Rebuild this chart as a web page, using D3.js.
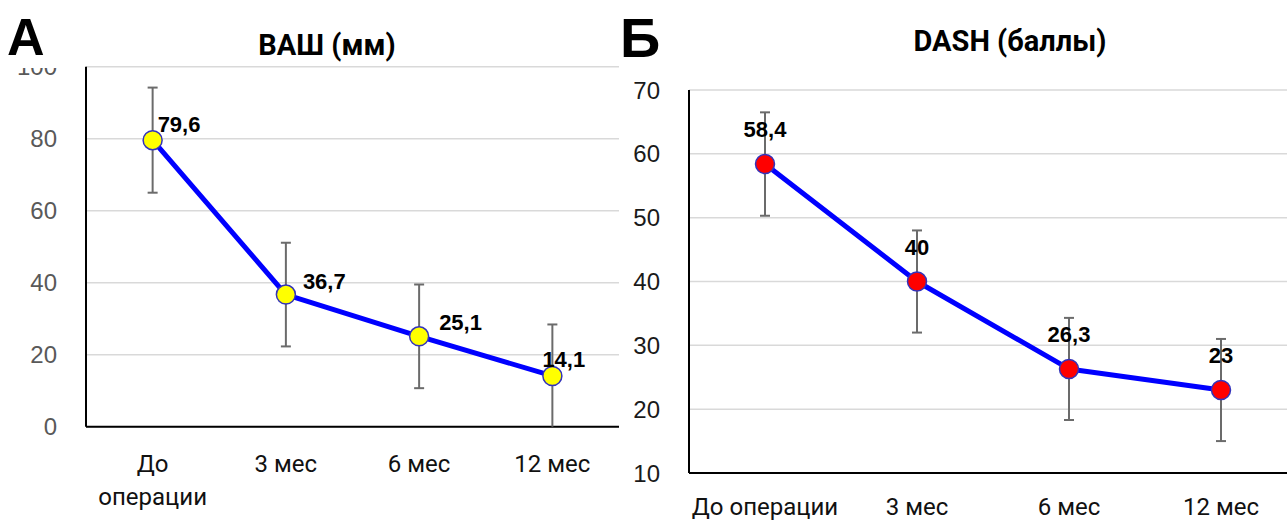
<!DOCTYPE html>
<html>
<head>
<meta charset="utf-8">
<script src="https://cdn.jsdelivr.net/npm/d3@7"></script>
<style>
  body { margin: 0; background: #fff; }
  svg { display: block; }
</style>
</head>
<body>
<svg id="chart" width="1287" height="521"></svg>
<script>
// values
const categories = ["До операции", "3 мес", "6 мес", "12 мес"];
const vasMeans = [79.6, 36.7, 25.1, 14.1];
const vasErr = [14.6, 14.4, 14.4, 14.3];
const vasTicks = [0, 20, 40, 60, 80, 100];
const dashMeans = [58.4, 40, 26.3, 23];
const dashErr = [8.1, 8.0, 8.0, 8.0];
const dashTicks = [10, 20, 30, 40, 50, 60, 70];

const svg = d3.select("#chart");
const fmt = v => String(v).replace(".", ",");

function drawPanel(p) {
  const g = svg.append("g");
  const x = d3.scalePoint().domain(categories).range([p.x0, p.x1]).padding(0.5);
  const y = d3.scaleLinear().domain(p.domain).range([p.yBottom, p.yTop]);
  const rows = p.means.map((m, i) => ({ cat: categories[i], m: m, e: p.err[i] }));

  // gridlines
  g.selectAll(".grid").data(p.ticks).join("line")
    .attr("x1", p.x0).attr("x2", p.x1)
    .attr("y1", d => y(d)).attr("y2", d => y(d))
    .attr("stroke", "#d9d9d9").attr("stroke-width", 1.5);

  // y tick labels
  g.selectAll(".ytick").data(p.ticks).join("text")
    .attr("x", p.x0 - 29).attr("y", d => y(d)).attr("dy", "0.36em")
    .attr("text-anchor", "end")
    .attr("font-family", "Liberation Sans, Arial, sans-serif")
    .attr("font-size", 24).attr("fill", p.tickColor)
    .text(d => d);

  // axis lines
  g.append("line").attr("x1", p.x0).attr("x2", p.x0)
    .attr("y1", y(p.domain[1])).attr("y2", p.yBottom)
    .attr("stroke", "#000").attr("stroke-width", 2);
  g.append("line").attr("x1", p.x0).attr("x2", p.x1)
    .attr("y1", p.yBottom).attr("y2", p.yBottom)
    .attr("stroke", "#000").attr("stroke-width", 2);

  // category labels (long one wraps on the narrow panel)
  g.selectAll(".cat").data(categories).join("text")
    .attr("y", p.catY)
    .attr("text-anchor", "middle")
    .attr("font-family", "Roboto, sans-serif")
    .attr("font-size", 24).attr("fill", "#111")
    .each(function(d) {
      const words = p.wrap && d.length > 7 ? d.split(" ") : [d];
      words.forEach((w, i) => {
        d3.select(this).append("tspan")
          .attr("x", x(d)).attr("dy", i === 0 ? 0 : 33).text(w);
      });
    });

  // error bars, clipped at the bottom of the axis
  const lo = d => Math.max(p.domain[0], d.m - d.e);
  const eb = g.selectAll(".err").data(rows).join("g").attr("stroke", "#6b6b6b").attr("stroke-width", 2);
  eb.append("line")
    .attr("x1", d => x(d.cat)).attr("x2", d => x(d.cat))
    .attr("y1", d => y(d.m + d.e)).attr("y2", d => y(lo(d)));
  eb.append("line")
    .attr("x1", d => x(d.cat) - 5).attr("x2", d => x(d.cat) + 5)
    .attr("y1", d => y(d.m + d.e)).attr("y2", d => y(d.m + d.e));
  eb.filter(d => d.m - d.e > p.domain[0]).append("line")
    .attr("x1", d => x(d.cat) - 5).attr("x2", d => x(d.cat) + 5)
    .attr("y1", d => y(d.m - d.e)).attr("y2", d => y(d.m - d.e));

  // line
  g.append("path")
    .datum(rows)
    .attr("d", d3.line().x(d => x(d.cat)).y(d => y(d.m)))
    .attr("fill", "none").attr("stroke", "#0000ff").attr("stroke-width", 5)
    .attr("stroke-linejoin", "round");

  // markers
  g.selectAll(".pt").data(rows).join("circle")
    .attr("cx", d => x(d.cat)).attr("cy", d => y(d.m))
    .attr("r", 9.5).attr("fill", p.markerColor)
    .attr("stroke", "#3333bb").attr("stroke-width", 1.5);

  // value labels
  g.selectAll(".val").data(rows).join("text")
    .attr("x", (d, i) => x(d.cat) + p.labelOffsets[i][0])
    .attr("y", (d, i) => y(d.m) + p.labelOffsets[i][1])
    .attr("text-anchor", p.labelAnchor)
    .attr("font-family", "Liberation Sans, Arial, sans-serif")
    .attr("font-weight", "bold").attr("font-size", 22).attr("fill", "#000")
    .text(d => fmt(d.m));

  // title
  g.append("text")
    .attr("x", p.titleX).attr("y", p.titleY)
    .attr("text-anchor", "middle")
    .attr("font-family", "Roboto, sans-serif")
    .attr("font-weight", "bold").attr("font-size", 29)
    .text(p.title);

  return g;
}

drawPanel({
  x0: 86, x1: 619, yTop: 66.7, yBottom: 426.7, domain: [0, 100],
  ticks: vasTicks, means: vasMeans, err: vasErr,
  tickColor: "#595959", markerColor: "#ffff00", wrap: true, catY: 472,
  labelOffsets: [[5, -8], [17, -6], [20, -6], [-10, -9]], labelAnchor: "start",
  title: "ВАШ (мм)", titleX: 327, titleY: 55
});

drawPanel({
  x0: 689, x1: 1297, yTop: 90, yBottom: 473, domain: [10, 70],
  ticks: dashTicks, means: dashMeans, err: dashErr,
  tickColor: "#1a1a1a", markerColor: "#ff0000", wrap: false, catY: 515,
  labelOffsets: [[0, -27], [0, -27], [0, -27], [0, -27]], labelAnchor: "middle",
  title: "DASH (баллы)", titleX: 1010, titleY: 51
});

// panel letters (white box hides most of the top tick label, as in the source)
svg.append("rect").attr("x", 0).attr("y", 0).attr("width", 72).attr("height", 68).attr("fill", "#fff");
svg.append("text").attr("x", 7).attr("y", 55)
  .attr("font-family", "Liberation Sans, Arial, sans-serif")
  .attr("font-weight", "bold").attr("font-size", 52).text("А");
svg.append("text").attr("x", 620).attr("y", 57)
  .attr("font-family", "Liberation Sans, Arial, sans-serif")
  .attr("font-weight", "bold").attr("font-size", 56).text("Б");
</script>
</body>
</html>
